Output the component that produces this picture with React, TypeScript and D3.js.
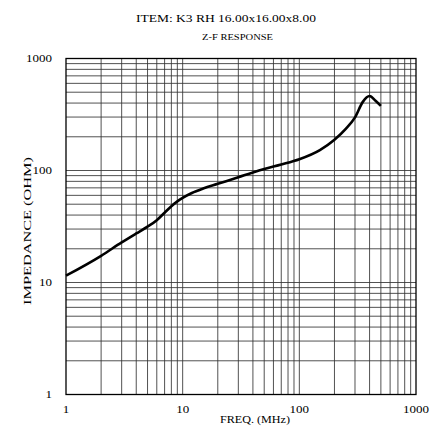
import React from "react";
import * as d3 from "d3";

const freq = [1, 2, 3, 4, 5, 6, 7, 8, 9, 10, 12, 15, 20, 30, 40, 50, 70, 100, 150, 200, 250, 300, 350, 400, 450, 500];
const imp = [11.5, 17.3, 22.8, 27.4, 31.5, 36, 42, 48, 53, 57, 63, 69, 76, 87, 96, 103, 113, 126, 152, 188, 235, 298, 410, 462, 420, 377];
const xTicks = [1, 10, 100, 1000];
const yTicks = [1, 10, 100, 1000];

export default function App() {
  const W = 430, H = 432;
  const x = d3.scaleLog().domain([1, 1000]).range([66, 416]);
  const y = d3.scaleLog().domain([1, 1000]).range([394.5, 58.5]);
  const grid: number[] = [];
  for (let d = 1; d < 1000; d *= 10) for (let k = 2; k <= 9; k++) grid.push(d * k);
  const decades = [10, 100];
  const line = d3
    .line<number>()
    .x((_, i) => x(freq[i]))
    .y((v) => y(v))
    .curve(d3.curveMonotoneX);
  const digitW = 6.5;
  return (
    <svg width={W} height={H} style={{ position: "absolute", left: 0, top: 0 }} fontFamily="'Liberation Serif', 'DejaVu Serif', serif">
      <rect width={W} height={H} fill="#fff" />
      <text x={136} y={22} fontSize={10.5} textLength={180} lengthAdjust="spacingAndGlyphs">ITEM: K3 RH 16.00x16.00x8.00</text>
      <text x={202} y={40} fontSize={8.5} textLength={71} lengthAdjust="spacingAndGlyphs">Z-F RESPONSE</text>
      {grid.concat(decades).map((g) => (
        <line key={"v" + g} x1={x(g)} x2={x(g)} y1={y(1000)} y2={y(1)} stroke="#333" strokeWidth={0.85} />
      ))}
      {grid.concat(decades).map((g) => (
        <line key={"h" + g} x1={x(1)} x2={x(1000)} y1={y(g)} y2={y(g)} stroke="#333" strokeWidth={0.85} />
      ))}
      <rect x={x(1)} y={y(1000)} width={x(1000) - x(1)} height={y(1) - y(1000)} fill="none" stroke="#000" strokeWidth={1.3} />
      <path d={line(imp) || ""} fill="none" stroke="#000" strokeWidth={2.6} strokeLinejoin="round" />
      {yTicks.map((t) => {
        const s = String(t);
        const w = s.length * digitW;
        return (
          <text key={"yt" + t} x={52 - w} y={y(t) + 3.5} fontSize={10.5} textLength={w} lengthAdjust="spacingAndGlyphs">{s}</text>
        );
      })}
      {xTicks.map((t) => {
        const s = String(t);
        const w = s.length * digitW;
        return (
          <text key={"xt" + t} x={x(t) - w / 2} y={413} fontSize={10.5} textLength={w} lengthAdjust="spacingAndGlyphs">{s}</text>
        );
      })}
      <text x={220} y={423} fontSize={10} textLength={70} lengthAdjust="spacingAndGlyphs">FREQ. (MHz)</text>
      <text transform={`translate(31,305) rotate(-90)`} fontSize={11} textLength={148} lengthAdjust="spacingAndGlyphs">IMPEDANCE (OHM)</text>
    </svg>
  );
}
